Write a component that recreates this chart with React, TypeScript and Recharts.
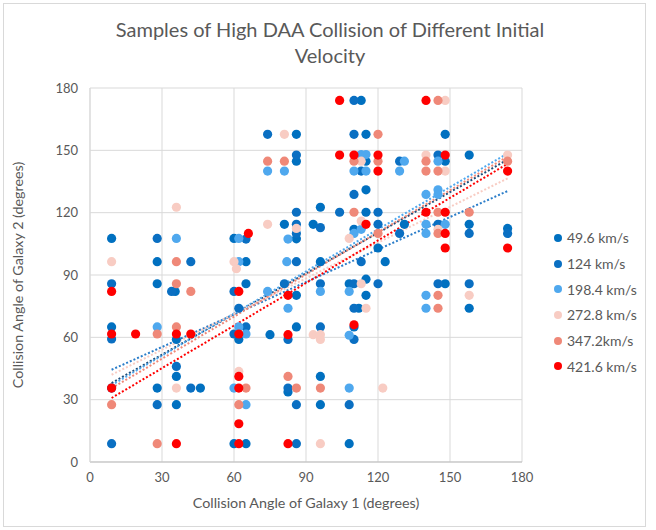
import {
  CartesianGrid,
  Legend,
  ReferenceLine,
  Scatter,
  ScatterChart,
  XAxis,
  YAxis,
} from 'recharts';

const FONT = 'Lato, "Open Sans", sans-serif';
const TEXT = '#595959';

const speeds = ['49.6 km/s', '124 km/s', '198.4 km/s', '272.8 km/s', '347.2km/s', '421.6 km/s'];
const colors = ['#0070C0', '#0A6FC2', '#4FA8EE', '#F8CCC3', '#EF8878', '#FF0000'];
const trendColors = ['#2A7DC9', '#1F4E79', '#4FA8EE', '#F8CCC3', '#EF8878', '#FF0000'];
const axisTicks = [0, 30, 60, 90, 120, 150, 180];

// trendline ends (y at first and last x)
const trendX = [9, 174];
const trendStart = [44.4, 38, 37, 42, 35.5, 30.8];
const trendEnd = [130.4, 145.5, 148.5, 136.5, 147, 143.5];

type Pt = [number, number];

const v496: Pt[] = [
  [9, 107.6], [28, 96.4], [60, 107.6], [65, 96.4], [86, 157.7], [113, 174],
  [115, 157.7], [86, 144.8], [115, 131], [96, 122.6], [115, 120.2], [81, 114.4],
  [93, 114.4], [86, 107.4], [110, 112], [120, 103], [96, 96.4], [148, 157.7],
  [148, 144.8], [158, 147.7], [131, 114.4], [158, 114.4], [174, 112.4], [123, 96.4],
  [115, 144.8], [28, 85.8], [35.5, 82.1], [9, 65], [36, 59], [62, 59], [36, 41.2],
  [28, 35.6], [46, 35.6], [36, 27.6], [60, 8.8], [65, 85.8], [86, 80.2],
  [108, 85.8], [115, 88], [115, 80.2], [112, 74], [75, 61.3], [86, 65],
  [110, 65], [96, 41.2], [82.5, 33.7], [96, 27.6], [65, 8.8], [108, 8.8],
  [148, 85.8], [158, 74],
];

const v124: Pt[] = [
  [28, 107.6], [42, 96.4], [65, 107.3], [74, 157.7], [110, 174], [110, 157.7],
  [86, 147.7], [110, 128.8], [86, 120.2], [104, 120.2], [120, 120.2], [86, 114.4],
  [86, 110], [96, 112.8], [120, 114.4], [86, 96.4], [113, 96.4], [145, 147.7],
  [129, 144.8], [129, 110], [145, 114.4], [158, 110], [174, 110], [113, 140],
  [9, 85.8], [34, 82.1], [60, 82.1], [9, 59.2], [60, 61.6], [36, 46],
  [9, 35.6], [42, 35.6], [28, 27.6], [9, 8.8], [62, 74], [81, 85.8],
  [96, 85.8], [110, 85.8], [120, 85.8], [110, 74], [65, 65], [82.5, 59],
  [96, 65], [110, 59], [82.5, 35.6], [86, 27.6], [108, 27.6], [86, 8.8],
  [145, 85.8], [158, 85.8],
];

const v1984: Pt[] = [
  [36, 107.6], [62, 107.6], [81, 140], [74, 140], [113, 148], [115, 148],
  [110, 140], [115, 140], [82.5, 107.3], [62, 96.4], [82, 96.4], [110, 110],
  [113, 112], [131, 144.8], [129, 140], [145, 144.8], [140, 128.8], [145, 131],
  [145, 128.8], [140, 114.4], [140, 110], [148, 114.4], [28, 65], [60, 35.6],
  [74, 82.1], [82.5, 74], [96, 82.1], [108, 82.1], [62, 65], [65, 61.6],
  [108, 61], [108, 35.6], [65, 27.6], [140, 80.2], [140, 74],
];

const v2728: Pt[] = [
  [9, 96.4], [36, 122.6], [60, 96.4], [61, 93], [81, 157.7], [113, 144.8],
  [74, 114.4], [86, 112.4], [108, 107.6], [113, 116], [145, 112], [140, 147.7],
  [148, 140], [148, 174], [174, 147.7], [36, 35.6], [62, 43.6], [113, 85.8],
  [115, 74], [93, 61.3], [96, 61.3], [96, 59], [122, 35.6], [96, 8.8],
  [158, 80.2],
];

const v3472: Pt[] = [
  [36, 96.4], [74, 144.8], [81, 144.8], [120, 157.7], [110, 144.8], [110, 120.2],
  [120, 144.8], [145, 174], [140, 144.8], [140, 140], [145, 140], [145, 120.2],
  [158, 120.2], [145, 110], [174, 144.8], [36, 85.8], [42, 82.1], [28, 61.6],
  [36, 65], [9, 27.6], [28, 8.8], [62, 27.6], [65, 35.6], [82.5, 41.2],
  [86, 35.6], [96, 35.6], [145, 80.2], [145, 74], [120, 110],
];

const v4216: Pt[] = [
  [104, 174], [140, 174], [104, 147.7], [110, 147.7], [120, 147.7], [120, 140],
  [148, 147.7], [140, 120.2], [148, 120.2], [148, 110], [148, 103], [174, 140],
  [174, 103], [115, 114.4], [66, 110], [9, 82.1], [62, 82.1], [9, 61.6],
  [19, 61.6], [36, 61.6], [42, 61.6], [62, 61.6], [9, 35.6], [62, 35.6],
  [62, 41.2], [62, 18.4], [36, 8.8], [62, 8.8], [82.5, 80.2], [82.5, 61.3],
  [110, 66], [82.5, 8.8],
];

const seriesPoints = [v496, v124, v1984, v2728, v3472, v4216];

const dot = (color: string) => (props: any) =>
  <circle cx={props.cx} cy={props.cy} r={4.6} fill={color} />;

// keep the series order (recharts would sort the payload by name)
function LegendBox() {
  return (
    <div style={{ fontFamily: FONT, fontSize: 14, color: TEXT }}>
      {speeds.map((s, i) => (
        <div key={s} style={{ height: 25.7, display: 'flex', alignItems: 'center' }}>
          <svg width={12} height={10} style={{ marginRight: 2 }}>
            <circle cx={5} cy={5} r={4} fill={colors[i]} />
          </svg>
          <span>{s}</span>
        </div>
      ))}
    </div>
  );
}

export default function App() {
  return (
    <div style={{ position: 'absolute', left: 0, top: 0, width: 656, height: 530, background: '#fff' }}>
      <div
        style={{
          position: 'absolute', left: 3, top: 3, width: 643, height: 524,
          border: '1px solid #D9D9D9', boxSizing: 'border-box',
        }}
      />
      <div
        style={{
          position: 'absolute', left: 0, top: 16, width: 660, textAlign: 'center',
          fontFamily: FONT, fontSize: 20, color: TEXT, lineHeight: '26px',
        }}
      >
        Samples of High DAA Collision of Different Initial
        <br />
        Velocity
      </div>
      <div
        style={{
          position: 'absolute', left: 90, top: 494, width: 432, textAlign: 'center',
          fontFamily: FONT, fontSize: 14.3, color: TEXT,
        }}
      >
        Collision Angle of Galaxy 1 (degrees)
      </div>
      <div
        style={{
          position: 'absolute', left: 18 - 187, top: 275 - 9, width: 374, textAlign: 'center',
          fontFamily: FONT, fontSize: 14.3, color: TEXT, transform: 'rotate(-90deg)',
          transformOrigin: '187px 9px',
        }}
      >
        Collision Angle of Galaxy 2 (degrees)
      </div>
      <ScatterChart
        width={656}
        height={530}
        margin={{ top: 88, right: 134, bottom: 28, left: 0 }}
        style={{ position: 'absolute', left: 0, top: 0 }}
      >
        <CartesianGrid stroke="#D9D9D9" strokeWidth={1} />
        <XAxis
          type="number"
          dataKey="x"
          domain={[0, 180]}
          ticks={axisTicks}
          height={40}
          tickLine={false}
          tickMargin={5}
          axisLine={{ stroke: '#BFBFBF' }}
          tick={{ fill: TEXT, fontSize: 13, fontFamily: FONT }}
        />
        <YAxis
          type="number"
          dataKey="y"
          domain={[0, 180]}
          ticks={axisTicks}
          width={90}
          tickLine={false}
          tickMargin={6}
          axisLine={{ stroke: '#D9D9D9' }}
          tick={{ fill: TEXT, fontSize: 13, fontFamily: FONT }}
        />
        {seriesPoints.map((pts, i) => (
          <Scatter
            key={speeds[i]}
            name={speeds[i]}
            data={pts.map(([x, y]) => ({ x, y }))}
            fill={colors[i]}
            shape={dot(colors[i])}
            isAnimationActive={false}
          />
        ))}
        {speeds.map((s, i) => (
          <ReferenceLine
            key={'t' + s}
            segment={[
              { x: trendX[0], y: trendStart[i] },
              { x: trendX[1], y: trendEnd[i] },
            ]}
            stroke={trendColors[i]}
            strokeWidth={2}
            strokeDasharray="2 2"
            ifOverflow="visible"
          />
        ))}
        <Legend
          layout="vertical"
          align="center"
          verticalAlign="middle"
          content={<LegendBox />}
          wrapperStyle={{ left: 553, top: 225, width: 100 }}
        />
      </ScatterChart>
    </div>
  );
}
